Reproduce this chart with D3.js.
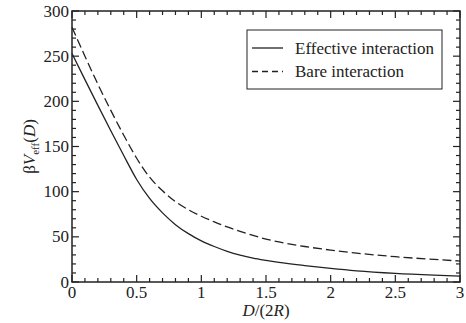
<!DOCTYPE html>
<html>
<head>
<meta charset="utf-8">
<script src="https://cdn.jsdelivr.net/npm/d3@7/dist/d3.min.js"></script>
<style>
  html, body { margin: 0; padding: 0; background: #fff; }
  svg { display: block; }
  text { font-family: "Liberation Serif", "Times New Roman", serif; fill: #222; }
</style>
</head>
<body>
<div id="chart"></div>
<script>
// Reduced distance D/(2R)
const distance = [0, 0.1, 0.2, 0.3, 0.4, 0.5, 0.6, 0.7, 0.8, 0.9, 1.0, 1.1, 1.2, 1.3, 1.4, 1.5, 1.6, 1.8, 2.0, 2.2, 2.5, 2.8, 3.0];
// βV_eff(D) for the effective (solid) and bare (dashed) interaction
const effective = [253, 224, 195.5, 167.5, 140, 113.5, 92.5, 76.5, 63.5, 53.5, 45.5, 39.3, 34, 29.8, 26.5, 24, 21.8, 18.2, 15, 12.3, 9.5, 7.6, 6.6];
const bare = [282, 250, 219, 190, 162.5, 137, 116, 101, 89, 80, 72.8, 66.6, 61, 56, 51.5, 47.5, 44.3, 39.3, 35.3, 32, 28, 25, 23.2];

const xTicks = [0, 0.5, 1, 1.5, 2, 2.5, 3];
const xTickLabels = ["0", "0.5", "1", "1.5", "2", "2.5", "3"];
const yTicks = [0, 50, 100, 150, 200, 250, 300];
const yTickLabels = ["0", "50", "100", "150", "200", "250", "300"];
const seriesNames = ["Effective interaction", "Bare interaction"];

const W = 466, H = 323;
const m = { left: 72, right: 6, top: 11, bottom: 41 };
const ink = "#222";

const svg = d3.select("#chart").append("svg").attr("width", W).attr("height", H);

const x = d3.scaleLinear().domain([0, 3]).range([m.left, W - m.right]);
const y = d3.scaleLinear().domain([0, 300]).range([H - m.bottom, m.top]);

const minorX = d3.range(0, 3.0001, 0.1);
const minorY = d3.range(0, 300.0001, 10);
const x0 = x.range()[0], x1 = x.range()[1], y0 = y.range()[0], y1 = y.range()[1];

// Inward ticks on all four sides
const tickG = svg.append("g").attr("stroke", ink).attr("stroke-width", 1.2);
function isMajor(v, step) { return Math.abs(v / step - Math.round(v / step)) < 1e-6; }
minorX.forEach(v => {
  const len = isMajor(v, 0.5) ? 7 : 4;
  tickG.append("line").attr("x1", x(v)).attr("x2", x(v)).attr("y1", y0).attr("y2", y0 - len);
  tickG.append("line").attr("x1", x(v)).attr("x2", x(v)).attr("y1", y1).attr("y2", y1 + len);
});
minorY.forEach(v => {
  const len = isMajor(v, 50) ? 7 : 4;
  tickG.append("line").attr("x1", x0).attr("x2", x0 + len).attr("y1", y(v)).attr("y2", y(v));
  tickG.append("line").attr("x1", x1).attr("x2", x1 - len).attr("y1", y(v)).attr("y2", y(v));
});

// Frame
svg.append("rect")
  .attr("x", x0).attr("y", y1).attr("width", x1 - x0).attr("height", y0 - y1)
  .attr("fill", "none").attr("stroke", ink).attr("stroke-width", 1.5);

// Tick labels
svg.append("g").selectAll("text").data(xTicks).join("text")
  .attr("x", d => x(d)).attr("y", y0 + 16)
  .attr("text-anchor", "middle").attr("font-size", 17)
  .text((d, i) => xTickLabels[i]);

svg.append("g").selectAll("text").data(yTicks).join("text")
  .attr("x", x0 - 3).attr("y", d => y(d) + 5.5)
  .attr("text-anchor", "end").attr("font-size", 17)
  .text((d, i) => yTickLabels[i]);

// Axis titles
const xl = svg.append("text").attr("x", (x0 + x1) / 2).attr("y", 316)
  .attr("text-anchor", "middle").attr("font-size", 17);
xl.append("tspan").attr("font-style", "italic").text("D");
xl.append("tspan").text("/(2");
xl.append("tspan").attr("font-style", "italic").text("R");
xl.append("tspan").text(")");

const yl = svg.append("text")
  .attr("transform", `translate(35,${(y0 + y1) / 2}) rotate(-90)`)
  .attr("text-anchor", "middle").attr("font-size", 17);
yl.append("tspan").text("β");
yl.append("tspan").attr("font-style", "italic").text("V");
yl.append("tspan").attr("font-size", 11).attr("dy", 4).text("eff");
yl.append("tspan").attr("dy", -4).text("(");
yl.append("tspan").attr("font-style", "italic").text("D");
yl.append("tspan").text(")");

// Curves
const line = d3.line().x((d, i) => x(distance[i])).y(d => y(d)).curve(d3.curveMonotoneX);
svg.append("path").datum(effective).attr("d", line)
  .attr("fill", "none").attr("stroke", ink).attr("stroke-width", 1.3);
svg.append("path").datum(bare).attr("d", line)
  .attr("fill", "none").attr("stroke", ink).attr("stroke-width", 1.3)
  .attr("stroke-dasharray", "9,4");

// Legend
const lg = svg.append("g");
lg.append("rect").attr("x", 247).attr("y", 30).attr("width", 195).attr("height", 59)
  .attr("fill", "#fff").attr("stroke", ink).attr("stroke-width", 1);
seriesNames.forEach((name, i) => {
  const ly = 48 + i * 23.5;
  lg.append("line").attr("x1", 252).attr("x2", 283).attr("y1", ly).attr("y2", ly)
    .attr("stroke", ink).attr("stroke-width", 1.3)
    .attr("stroke-dasharray", i === 1 ? "6,4" : null);
  lg.append("text").attr("x", 295).attr("y", ly + 5.5).attr("font-size", 17).text(name);
});
</script>
</body>
</html>
